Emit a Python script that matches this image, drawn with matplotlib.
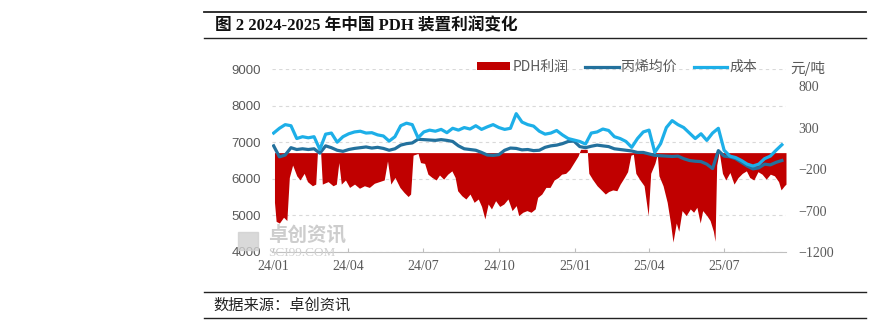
import matplotlib
matplotlib.use("Agg")
import matplotlib.pyplot as plt
import matplotlib.dates as mdates
from matplotlib.patches import Rectangle
import pandas as pd

# PDH profit (right axis, 元/吨) at turning points
profit_dates = [
    '2024-01-03', '2024-01-05', '2024-01-09', '2024-01-14', '2024-01-18', '2024-01-21',
    '2024-01-25', '2024-01-30', '2024-02-03', '2024-02-08', '2024-02-12', '2024-02-18',
    '2024-02-22', '2024-02-24', '2024-02-28', '2024-03-01', '2024-03-08', '2024-03-14',
    '2024-03-18', '2024-03-21', '2024-03-24', '2024-03-29', '2024-04-03', '2024-04-09',
    '2024-04-15', '2024-04-21', '2024-04-27', '2024-05-03', '2024-05-09', '2024-05-15',
    '2024-05-19', '2024-05-23', '2024-05-28', '2024-06-03', '2024-06-08', '2024-06-13',
    '2024-06-16', '2024-06-19', '2024-06-25', '2024-06-28', '2024-07-03', '2024-07-07',
    '2024-07-12', '2024-07-17', '2024-07-21', '2024-07-26', '2024-07-31', '2024-08-05',
    '2024-08-09', '2024-08-12', '2024-08-17', '2024-08-22', '2024-08-27', '2024-09-01',
    '2024-09-06', '2024-09-10', '2024-09-14', '2024-09-18', '2024-09-22', '2024-09-27',
    '2024-10-02', '2024-10-07', '2024-10-12', '2024-10-17', '2024-10-22', '2024-10-25',
    '2024-10-30', '2024-11-04', '2024-11-09', '2024-11-14', '2024-11-17', '2024-11-22',
    '2024-11-27', '2024-12-02', '2024-12-07', '2024-12-12', '2024-12-16', '2024-12-21',
    '2024-12-26', '2024-12-31', '2025-01-05', '2025-01-08', '2025-01-16', '2025-01-18',
    '2025-01-23', '2025-01-28', '2025-02-02', '2025-02-07', '2025-02-11', '2025-02-16',
    '2025-02-21', '2025-02-25', '2025-03-02', '2025-03-06', '2025-03-10', '2025-03-13',
    '2025-03-16', '2025-03-21', '2025-03-26', '2025-03-31', '2025-04-03', '2025-04-08',
    '2025-04-11', '2025-04-13', '2025-04-18', '2025-04-23', '2025-04-27', '2025-04-30',
    '2025-05-04', '2025-05-07', '2025-05-11', '2025-05-16', '2025-05-21', '2025-05-25',
    '2025-05-29', '2025-06-02', '2025-06-05', '2025-06-10', '2025-06-14', '2025-06-18',
    '2025-06-20', '2025-06-22', '2025-06-25', '2025-06-29', '2025-07-03', '2025-07-08',
    '2025-07-13', '2025-07-18', '2025-07-23', '2025-07-28', '2025-08-01', '2025-08-06',
    '2025-08-11', '2025-08-16', '2025-08-21', '2025-08-26', '2025-08-31', '2025-09-05',
    '2025-09-08', '2025-09-12', '2025-09-14',
]
profit = [
    -600, -830, -850, -780, -820, -300,
    -150, -280, -330, -250, -350, -400,
    -380, -10, -10, -380, -350, -400,
    -380, -120, -380, -330, -420, -380,
    -430, -400, -420, -370, -350, -330,
    -100, -380, -300, -420, -480, -530,
    -500, -30, -10, -120, -130, -260,
    -300, -330, -270, -320, -260, -220,
    -300, -460, -520, -560, -500, -600,
    -560, -650, -800, -620, -680, -580,
    -650, -620, -560, -700, -640, -760,
    -720, -700, -720, -680, -540, -500,
    -420, -420, -330, -300, -260, -250,
    -200, -120, -40, 40, 40, -250,
    -330, -400, -450, -500, -470, -450,
    -460, -380, -300, -230, -30, -20,
    -250, -330, -400, -760, -250, -130,
    -20, -280, -400, -600, -850, -1080,
    -850, -950, -700, -760, -680, -720,
    -660, -850, -700, -760, -820, -950,
    -1070, -150, 10, -250, -330, -240,
    -380, -300, -250, -220, -300, -330,
    -230, -260, -320, -260, -280, -350,
    -450, -400, -380,
]

# weekly readings of propylene average price and cost (left axis, 元/吨)
week_dates = pd.date_range('2024-01-02', periods=89, freq='7D')
propylene = [
    6900, 6600, 6650, 6850, 6800, 6820, 6800, 6820, 6700, 6900,
    6850, 6780, 6750, 6800, 6830, 6850, 6870, 6840, 6860, 6830,
    6780, 6820, 6920, 6960, 6980, 7080, 7070, 7060, 7050, 7070,
    7050, 7020, 6900, 6820, 6800, 6780, 6720, 6650, 6640, 6660,
    6780, 6840, 6830, 6790, 6800, 6770, 6780, 6860, 6900, 6920,
    6960, 7020, 7030, 6880, 6850, 6890, 6920, 6900, 6880, 6820,
    6800, 6780, 6760, 6720, 6720, 6680, 6640, 6630, 6620, 6610,
    6620, 6550, 6500, 6480, 6470, 6400, 6280, 6770, 6620, 6600,
    6550, 6450, 6350, 6270, 6300, 6400, 6380, 6450, 6500,
]
cost = [
    7250, 7380, 7480, 7450, 7100, 7150, 7120, 7150, 6800, 7220,
    7250, 7000, 7150, 7230, 7280, 7300, 7250, 7260, 7200, 7170,
    7030, 7150, 7450, 7520, 7480, 7120, 7280, 7330, 7300, 7350,
    7260, 7380, 7330, 7400, 7360, 7450, 7350, 7420, 7480, 7400,
    7350, 7380, 7780, 7550, 7480, 7440, 7300, 7220, 7250, 7320,
    7200, 7100, 7060, 7020, 6950, 7250, 7280, 7360, 7320, 7150,
    7100, 7020, 6860, 7100, 7280, 7330, 6720, 6960, 7400, 7590,
    7480, 7400, 7250, 7100, 7230, 7050, 7250, 7380, 6780, 6620,
    6580, 6500, 6400, 6350, 6400, 6550, 6620, 6780, 6930,
]

left_ticks = [4000, 5000, 6000, 7000, 8000, 9000]
right_ticks = [-1200, -700, -200, 300, 800]
quarter_ticks = ['2024-01-01', '2024-04-01', '2024-07-01', '2024-10-01',
                 '2025-01-01', '2025-04-01', '2025-07-01']

CJK = ['Noto Sans CJK SC', 'DejaVu Sans']
GRAY = '#595959'

fig = plt.figure(figsize=(8.72, 3.27), dpi=100)
fig.patch.set_facecolor('white')

W, H = 872, 327
ax = fig.add_axes([272 / W, 1 - 252 / H, (786 - 272) / W, (252 - 69) / H])
ax_r = ax.twinx()   # profit area (right scale)
ax_l = ax.twinx()   # price lines drawn on top

# base axes: left scale, grid and date axis
ax.set_ylim(4000, 9000)
ax.set_yticks(left_ticks)
ax.yaxis.grid(True, linestyle=(0, (3, 3)), color='#d9d9d9', linewidth=0.8)
ax.set_axisbelow(True)
for s in ['top', 'left', 'right']:
    ax.spines[s].set_visible(False)
ax.spines['bottom'].set_color('#bfbfbf')
ax.tick_params(axis='y', length=0, pad=8, labelsize=9.5, labelcolor=GRAY)
for lab in ax.get_yticklabels():
    lab.set_family('Liberation Sans')

ax.set_xlim(pd.Timestamp('2023-12-31'), pd.Timestamp('2025-09-14'))
ax.set_xticks(pd.to_datetime(quarter_ticks))
ax.xaxis.set_major_formatter(mdates.DateFormatter('%y/%m'))
ax.tick_params(axis='x', direction='in', length=3, color='#bfbfbf',
               pad=6, labelsize=10, labelcolor=GRAY)
for lab in ax.get_xticklabels():
    lab.set_family('Liberation Serif')

# profit area on right axis
fill = ax_r.fill_between(pd.to_datetime(profit_dates), 0, profit,
                         color='#C00000', linewidth=0, label='PDH利润')
ax_r.set_ylim(-1200, 1010)
ax_r.set_yticks(right_ticks)
ax_r.yaxis.tick_right()
ax_r.tick_params(axis='y', length=0, pad=9, labelsize=10, labelcolor=GRAY)
for lab in ax_r.get_yticklabels():
    lab.set_family('Liberation Serif')
for s in ax_r.spines.values():
    s.set_visible(False)

# price lines on top, same scale as left axis
ax_l.set_ylim(ax.get_ylim())
ln_p, = ax_l.plot(week_dates, propylene, color='#23719D', linewidth=2.3,
                  label='丙烯均价', solid_joinstyle='round')
ln_c, = ax_l.plot(week_dates, cost, color='#1DAFE8', linewidth=2.3,
                  label='成本', solid_joinstyle='round')
ax_l.set_yticks([])
for s in ax_l.spines.values():
    s.set_visible(False)

fig.legend(handles=[fill, ln_p, ln_c], loc='center', ncol=3,
           bbox_to_anchor=(617 / W, 1 - 67 / H), frameon=False,
           prop={'family': CJK, 'size': 10}, labelcolor=GRAY,
           handlelength=2.4, handleheight=0.5, handletextpad=0.2,
           columnspacing=1.2)
fig.text(790 / W, 1 - 69 / H, '元/吨', family=CJK, fontsize=10.5,
         color=GRAY, ha='left', va='center')

# watermark
fig.patches.append(Rectangle((238 / W, 1 - 250 / H), 20 / W, 18 / H,
                             transform=fig.transFigure, color='#d0d0d0', alpha=0.8))
fig.text(268 / W, 1 - 235 / H, '卓创资讯', family=CJK, fontsize=14,
         color='#c8c8c8', ha='left', va='center', fontweight='bold', alpha=0.9)
fig.text(268 / W, 1 - 253 / H, 'SCI99.COM', family='Liberation Serif', fontsize=9.5,
         color='#d0d0d0', ha='left', va='center')

# title block and rules
for y, lw in [(12, 1.3), (38, 1.0), (292, 1.0), (318, 1.0)]:
    fig.add_artist(plt.Line2D([204 / W, 866 / W], [1 - y / H, 1 - y / H],
                              transform=fig.transFigure, color='#222222', linewidth=lw))
fig.text(215 / W, 1 - 26 / H, '图 2 2024-2025 年中国 PDH 装置利润变化',
         family=['Liberation Serif', 'Noto Sans CJK SC'], fontweight='bold',
         fontsize=12, color='#111111', ha='left', va='center')
fig.text(213 / W, 1 - 305 / H, '数据来源：卓创资讯', family=CJK,
         fontsize=11, color='#222222', ha='left', va='center')

fig.savefig('out.png', dpi=100, facecolor='white')
